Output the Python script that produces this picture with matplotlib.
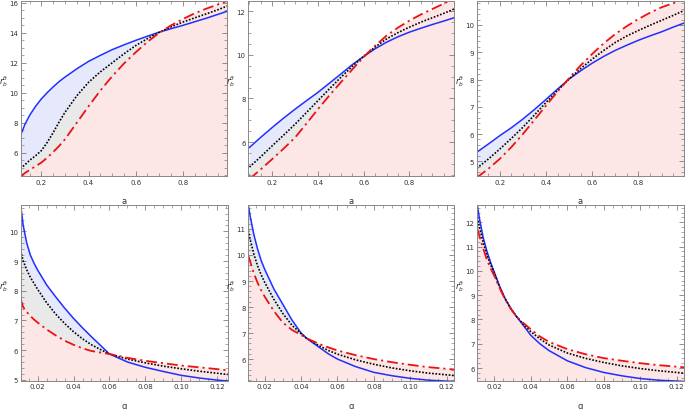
from matplotlib import pyplot as plt
from matplotlib.ticker import MultipleLocator

# top row: r_b against a
a1 = [0.11, 0.13, 0.15, 0.175, 0.2, 0.225, 0.25, 0.275, 0.3, 0.35, 0.4, 0.45, 0.5,
      0.55, 0.6, 0.65, 0.7, 0.75, 0.8, 0.85, 0.9, 0.95, 0.99]
blue1 = [7.1, 7.9, 8.5, 9.1, 9.6, 10.02, 10.4, 10.75, 11.05, 11.6, 12.1, 12.5, 12.88,
         13.2, 13.5, 13.78, 14.05, 14.28, 14.5, 14.74, 14.98, 15.24, 15.45]
black1 = [4.95, 5.2, 5.5, 5.8, 6.15, 6.7, 7.35, 8.05, 8.7, 9.8, 10.7, 11.4, 12.0,
          12.6, 13.15, 13.62, 14.04, 14.4, 14.72, 15.0, 15.27, 15.55, 15.8]
red1 = [4.4, 4.65, 4.85, 5.1, 5.35, 5.68, 6.05, 6.45, 6.9, 8.0, 9.1, 10.15, 11.1,
        11.95, 12.7, 13.4, 14.0, 14.5, 14.92, 15.3, 15.62, 15.9, 16.15]

a2 = [0.1, 0.15, 0.2, 0.25, 0.3, 0.35, 0.4, 0.45, 0.5, 0.55, 0.6, 0.65, 0.7,
      0.75, 0.8, 0.85, 0.9, 0.95, 0.995]
blue2 = [5.75, 6.22, 6.67, 7.1, 7.51, 7.9, 8.28, 8.7, 9.12, 9.55, 9.93, 10.28, 10.58,
         10.83, 11.04, 11.22, 11.39, 11.55, 11.7]
black2 = [4.85, 5.33, 5.83, 6.32, 6.82, 7.36, 7.9, 8.44, 8.97, 9.47, 9.93, 10.36, 10.73,
          11.02, 11.27, 11.5, 11.7, 11.9, 12.1]
red2 = [4.3, 4.75, 5.22, 5.7, 6.21, 6.85, 7.51, 8.14, 8.74, 9.33, 9.9, 10.42, 10.88,
        11.25, 11.57, 11.85, 12.1, 12.35, 12.57]

a3 = [0.1, 0.15, 0.2, 0.25, 0.3, 0.35, 0.4, 0.45, 0.5, 0.55, 0.6, 0.65, 0.7,
      0.75, 0.8, 0.85, 0.9, 0.95, 0.997]
blue3 = [5.33, 5.63, 5.94, 6.23, 6.55, 6.9, 7.27, 7.65, 8.02, 8.32, 8.6, 8.85, 9.07,
         9.26, 9.44, 9.6, 9.75, 9.92, 10.07]
black3 = [4.74, 5.08, 5.45, 5.84, 6.25, 6.7, 7.16, 7.6, 8.02, 8.4, 8.75, 9.07, 9.36,
          9.6, 9.8, 9.99, 10.17, 10.35, 10.53]
red3 = [4.4, 4.72, 5.09, 5.52, 6.0, 6.52, 7.04, 7.56, 8.05, 8.52, 8.94, 9.33, 9.67,
        9.96, 10.22, 10.45, 10.65, 10.8, 10.95]

# bottom row: r_b against q
q4 = [0.0106, 0.012, 0.014, 0.016, 0.018, 0.02, 0.025, 0.03, 0.035, 0.04, 0.045,
      0.05, 0.055, 0.06, 0.07, 0.08, 0.09, 0.1, 0.11, 0.12, 0.1258]
blue4 = [10.87, 10.2, 9.6, 9.2, 8.93, 8.7, 8.2, 7.8, 7.42, 7.07, 6.75,
         6.45, 6.16, 5.87, 5.6, 5.42, 5.28, 5.15, 5.06, 4.99, 4.96]
black4 = [9.35, 9.0, 8.7, 8.45, 8.25, 8.05, 7.6, 7.22, 6.9, 6.62, 6.38,
          6.18, 6.02, 5.87, 5.7, 5.57, 5.46, 5.37, 5.29, 5.22, 5.18]
red4 = [7.72, 7.45, 7.28, 7.15, 7.03, 6.93, 6.7, 6.5, 6.32, 6.18, 6.06,
        5.97, 5.92, 5.87, 5.74, 5.64, 5.56, 5.48, 5.42, 5.36, 5.32]

q5 = [0.011, 0.012, 0.014, 0.016, 0.018, 0.02, 0.025, 0.03, 0.035, 0.04, 0.043,
      0.05, 0.055, 0.06, 0.07, 0.08, 0.09, 0.1, 0.11, 0.124]
blue5 = [11.92, 11.5, 10.8, 10.25, 9.8, 9.45, 8.7, 8.1, 7.5, 7.0, 6.8,
         6.45, 6.2, 6.0, 5.71, 5.49, 5.36, 5.26, 5.19, 5.14]
black5 = [10.94, 10.6, 10.05, 9.6, 9.25, 8.95, 8.3, 7.75, 7.3, 6.98, 6.8,
          6.51, 6.33, 6.19, 5.97, 5.8, 5.66, 5.55, 5.46, 5.37]
red5 = [9.97, 9.75, 9.3, 8.95, 8.65, 8.4, 7.85, 7.4, 7.12, 6.93, 6.8,
        6.58, 6.45, 6.33, 6.15, 6.0, 5.88, 5.78, 5.69, 5.6]

q6 = [0.0107, 0.012, 0.014, 0.016, 0.018, 0.02, 0.023, 0.026, 0.029, 0.0322, 0.036,
      0.04, 0.045, 0.05, 0.06, 0.07, 0.08, 0.09, 0.1, 0.11, 0.124]
blue6 = [12.71, 12.1, 11.35, 10.8, 10.35, 9.95, 9.35, 8.85, 8.45, 8.12, 7.75,
         7.35, 7.0, 6.72, 6.3, 6.02, 5.82, 5.68, 5.57, 5.5, 5.45]
black6 = [12.2, 11.75, 11.15, 10.65, 10.25, 9.9, 9.32, 8.85, 8.46, 8.12, 7.8,
          7.5, 7.2, 6.95, 6.62, 6.4, 6.23, 6.09, 5.98, 5.89, 5.79]
red6 = [11.73, 11.4, 10.9, 10.45, 10.1, 9.8, 9.28, 8.82, 8.45, 8.12, 7.85,
        7.6, 7.3, 7.08, 6.78, 6.57, 6.41, 6.3, 6.2, 6.12, 6.03]

panels = [
    (a1, blue1, black1, red1, (0.112, 0.988), (4.45, 16.13), 0.2, 0.05, 2, 0.5, "a"),
    (a2, blue2, black2, red2, (0.095, 0.995), (4.44, 12.47), 0.2, 0.05, 2, 0.5, "a"),
    (a3, blue3, black3, red3, (0.1, 0.997), (4.46, 10.88), 0.2, 0.05, 1, 0.2, "a"),
    (q4, blue4, black4, red4, (0.0106, 0.1258), (4.97, 10.89), 0.02, 0.005, 1, 0.2, "q"),
    (q5, blue5, black5, red5, (0.011, 0.124), (5.17, 11.92), 0.02, 0.005, 1, 0.2, "q"),
    (q6, blue6, black6, red6, (0.0107, 0.124), (5.48, 12.71), 0.02, 0.005, 1, 0.2, "q"),
]

W, H = 685, 410
# axes boxes in pixels: left, right, top, bottom
boxes = [
    (20.7, 227, 2, 177), (248.3, 454, 2, 177), (476.7, 684, 2, 177),
    (20.7, 227.7, 206, 381.7), (248.3, 454, 206, 381.7), (477.3, 684, 206, 381.7),
]

fig = plt.figure(figsize=(W / 100, H / 100), dpi=100)

for (x, yb, yk, yr, xl, yl, xmaj, xmin, ymaj, ymin, xlab), (l, r, t, b) in zip(panels, boxes):
    ax = fig.add_axes([l / W, 1 - b / H, (r - l) / W, (b - t) / H])
    base = yl[0] - 5
    # layered fills down to the bottom, drawn blue, black, red
    ax.fill_between(x, base, yb, color='#e6e8fb', lw=0)
    ax.fill_between(x, base, yk, color='#e9e9e9', lw=0)
    ax.fill_between(x, base, yr, color='#fde6e6', lw=0)
    ax.plot(x, yb, color='#1f2fff', lw=1.1)
    ax.plot(x, yk, color='black', lw=1.2, linestyle=(0, (1, 1)))
    ax.plot(x, yr, color='#ee1111', lw=1.3, linestyle=(0, (6, 2.2, 1.2, 2.2)))
    ax.set_xlim(*xl)
    ax.set_ylim(*yl)
    ax.xaxis.set_major_locator(MultipleLocator(xmaj))
    ax.xaxis.set_minor_locator(MultipleLocator(xmin))
    ax.yaxis.set_major_locator(MultipleLocator(ymaj))
    ax.yaxis.set_minor_locator(MultipleLocator(ymin))
    ax.tick_params(which='both', direction='in', top=True, right=True,
                   color='#666666', labelsize=5, labelcolor='#333333', pad=2)
    ax.tick_params(which='major', length=3.5, width=0.5)
    ax.tick_params(which='minor', length=2, width=0.4)
    for s in ax.spines.values():
        s.set_color('#888888')
        s.set_linewidth(0.7)
    ax.set_xlabel(xlab, fontsize=6, color='#333333', labelpad=8)
    ax.set_ylabel(r'$r^{\theta}_{b}$', fontsize=6, color='#333333', rotation=0, labelpad=4)

plt.savefig('out.png', dpi=100)
